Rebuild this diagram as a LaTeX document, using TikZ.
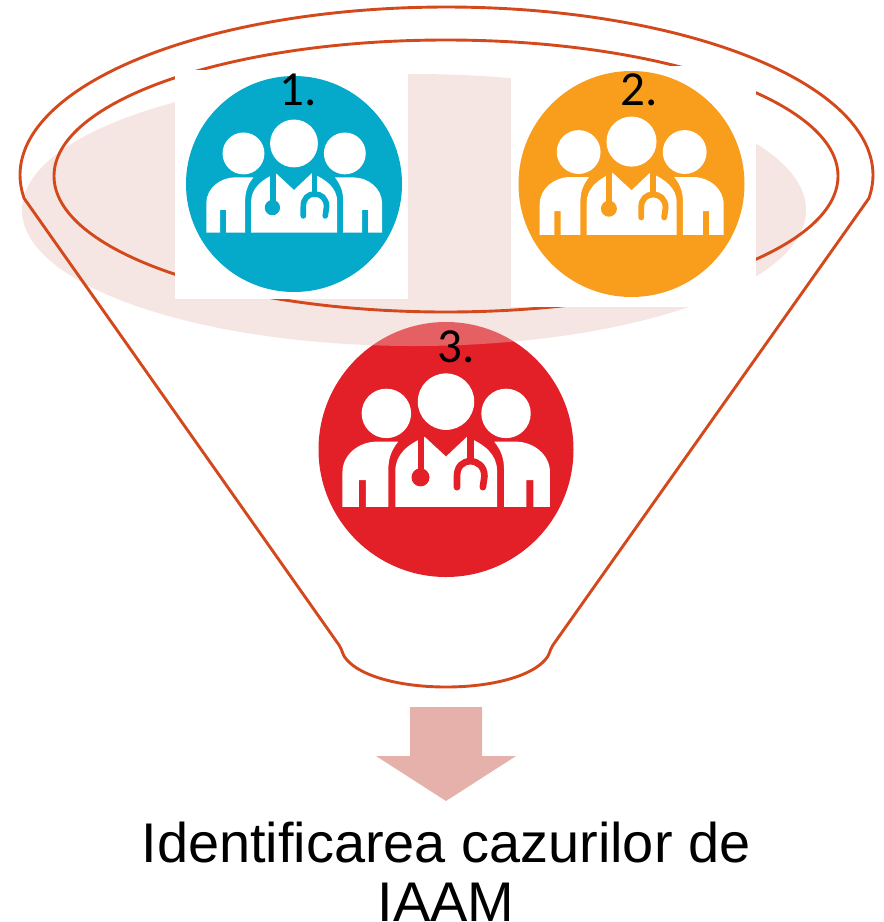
\documentclass[tikz,border=0pt]{standalone}
\usepackage{fontspec}
\setmainfont{Liberation Sans}
\newfontfamily\numfont{Carlito}
\definecolor{funnelline}{HTML}{D4491C}
\definecolor{pinkfill}{HTML}{E6C0B9}
\definecolor{arrowfill}{HTML}{E6B1AB}
\definecolor{iconblue}{HTML}{05A9C9}
\definecolor{iconorange}{HTML}{F99D1C}
\definecolor{iconred}{HTML}{E32028}
\tikzset{
  funnelstroke/.style={draw=funnelline,line width=2.9pt,line join=round},
  numlabel/.style={font=\numfont\fontsize{49}{49}\selectfont,anchor=base,inner sep=0pt,text=black},
  titlelabel/.style={font=\fontsize{55.9}{59}\selectfont,align=center,inner sep=0pt,text=black}
}
% #1 centre x, #2 centre y, #3 radius, #4 colour
\newcommand{\peopleicon}[4]{%
  \pgfmathsetmacro{\iconscale}{#3/325}%
  \pgfmathsetmacro{\iconlw}{17*\iconscale}%
  \fill[#4] (#1,#2) circle[radius=#3];
  \begin{scope}[shift={(#1,#2)},scale=\iconscale,shift={(-372,-372)}]
    \fill[white] (372,250) circle[radius=72];
    \fill[white] (220,280) circle[radius=63];
    \fill[white] (525,280) circle[radius=63];
    % left body
    \fill[white] (108,518) -- (108,430) .. controls (108,385) and (150,352) .. (195,352)
      -- (250,352) .. controls (232,375) and (225,395) .. (225,425) -- (225,518) -- (168,518)
      -- (168,450) -- (150,450) -- (150,518) -- cycle;
    % right body
    \fill[white] (637,518) -- (637,430) .. controls (637,385) and (595,352) .. (550,352)
      -- (495,352) .. controls (513,375) and (520,395) .. (520,425) -- (520,518) -- (577,518)
      -- (577,450) -- (595,450) -- (595,518) -- cycle;
    % central body
    \fill[white] (243,518) -- (243,425) .. controls (243,385) and (275,358) .. (318,340)
      -- (372,390) -- (425,340) .. controls (470,358) and (502,385) .. (502,425)
      -- (502,518) -- cycle;
    % stethoscope
    \draw[#4,line width=\iconlw pt] (308,336) -- (308,440);
    \fill[#4] (307,443) circle[radius=23];
    \draw[#4,line width=\iconlw pt] (434,336) -- (434,400);
    \draw[#4,line width=\iconlw pt,line cap=round] (400,468) -- (400,440)
      .. controls (400,415) and (415,402) .. (434,402)
      .. controls (453,402) and (470,415) .. (470,440) -- (466,468);
  \end{scope}
}
\begin{document}
\begin{tikzpicture}[x=1pt,y=-1pt]
  \useasboundingbox (0,0) rectangle (884,922);
  % red group under the translucent ellipse
  \peopleicon{446}{449.5}{127.5}{iconred}
  % translucent ellipse
  \fill[pinkfill,fill opacity=0.4] (414,210) ellipse[x radius=392,y radius=136];
  % funnel
  \draw[funnelstroke] plot[smooth,samples=140,domain=172:368]
      ({446.5+426.5*cos(\x)},{175+168*sin(\x)})
    -- (553,645) .. controls (549,651) and (550,655) .. (545,660)
    .. controls (530,677) and (490,687) .. (446,687)
    .. controls (402,687) and (362,677) .. (347,660)
    .. controls (342,655) and (343,651) .. (339,645) -- cycle;
  \draw[funnelstroke] (446,176) ellipse[x radius=392,y radius=136];
  % white image backgrounds
  \fill[white] (175,70) rectangle (407.5,299);
  \fill[white] (511,66) rectangle (756,307);
  \peopleicon{294}{184}{108}{iconblue}
  \peopleicon{631.5}{184}{113}{iconorange}
  % arrow
  \fill[arrowfill] (410,707) -- (482,707) -- (482,756) -- (516,756) -- (446,801)
    -- (376,756) -- (410,756) -- cycle;
  % texts
  \node[numlabel] (one) at (298,105) {1.};
  \node[numlabel] (two) at (639,105) {2.};
  \node[numlabel] (three) at (456,362) {3.};
  \node[titlelabel,anchor=south] (title) at (446,921.5) {Identificarea cazurilor de\\IAAM};
\end{tikzpicture}
\end{document}
